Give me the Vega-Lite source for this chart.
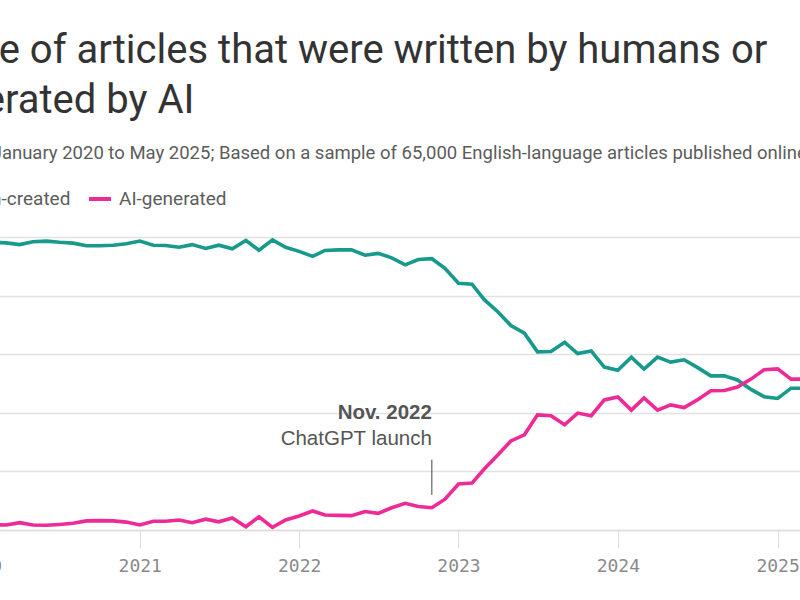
{
  "$schema": "https://vega.github.io/schema/vega-lite/v6.json",
  "autosize": {"type": "none"},
  "padding": {"left": -20, "top": 237, "right": -30, "bottom": 70},
  "width": 850,
  "height": 293,
  "background": "#ffffff",
  "title": {
    "text": ["Share of articles that were written by humans or", "generated by AI"],
    "subtitle": "Monthly, January 2020 to May 2025; Based on a sample of 65,000 English-language articles published online",
    "anchor": "start",
    "frame": "group",
    "dx": -62,
    "offset": 24,
    "font": "Roboto",
    "fontSize": 40,
    "fontWeight": 400,
    "color": "#333333",
    "lineHeight": 50,
    "subtitleFont": "Roboto",
    "subtitleFontSize": 18.5,
    "subtitleColor": "#5c5c5c",
    "subtitlePadding": 23
  },
  "datasets": {
    "shares": [
      {"month": "2020-01-01", "series": "Human-created", "share": 98.0},
      {"month": "2020-02-01", "series": "Human-created", "share": 98.2},
      {"month": "2020-03-01", "series": "Human-created", "share": 98.0},
      {"month": "2020-04-01", "series": "Human-created", "share": 97.4},
      {"month": "2020-05-01", "series": "Human-created", "share": 98.4},
      {"month": "2020-06-01", "series": "Human-created", "share": 98.6},
      {"month": "2020-07-01", "series": "Human-created", "share": 98.2},
      {"month": "2020-08-01", "series": "Human-created", "share": 97.9},
      {"month": "2020-09-01", "series": "Human-created", "share": 97.0},
      {"month": "2020-10-01", "series": "Human-created", "share": 97.0},
      {"month": "2020-11-01", "series": "Human-created", "share": 97.2},
      {"month": "2020-12-01", "series": "Human-created", "share": 97.7},
      {"month": "2021-01-01", "series": "Human-created", "share": 98.6},
      {"month": "2021-02-01", "series": "Human-created", "share": 97.2},
      {"month": "2021-03-01", "series": "Human-created", "share": 97.1},
      {"month": "2021-04-01", "series": "Human-created", "share": 96.5},
      {"month": "2021-05-01", "series": "Human-created", "share": 97.4},
      {"month": "2021-06-01", "series": "Human-created", "share": 96.1},
      {"month": "2021-07-01", "series": "Human-created", "share": 97.2},
      {"month": "2021-08-01", "series": "Human-created", "share": 96.0},
      {"month": "2021-09-01", "series": "Human-created", "share": 98.8},
      {"month": "2021-10-01", "series": "Human-created", "share": 95.5},
      {"month": "2021-11-01", "series": "Human-created", "share": 99.0},
      {"month": "2021-12-01", "series": "Human-created", "share": 96.5},
      {"month": "2022-01-01", "series": "Human-created", "share": 95.1},
      {"month": "2022-02-01", "series": "Human-created", "share": 93.4},
      {"month": "2022-03-01", "series": "Human-created", "share": 95.4},
      {"month": "2022-04-01", "series": "Human-created", "share": 95.6},
      {"month": "2022-05-01", "series": "Human-created", "share": 95.6},
      {"month": "2022-06-01", "series": "Human-created", "share": 93.8},
      {"month": "2022-07-01", "series": "Human-created", "share": 94.4},
      {"month": "2022-08-01", "series": "Human-created", "share": 92.9},
      {"month": "2022-09-01", "series": "Human-created", "share": 90.5},
      {"month": "2022-10-01", "series": "Human-created", "share": 92.3},
      {"month": "2022-11-01", "series": "Human-created", "share": 92.6},
      {"month": "2022-12-01", "series": "Human-created", "share": 89.3},
      {"month": "2023-01-01", "series": "Human-created", "share": 84.2},
      {"month": "2023-02-01", "series": "Human-created", "share": 83.9},
      {"month": "2023-03-01", "series": "Human-created", "share": 78.6},
      {"month": "2023-04-01", "series": "Human-created", "share": 74.5},
      {"month": "2023-05-01", "series": "Human-created", "share": 69.8},
      {"month": "2023-06-01", "series": "Human-created", "share": 67.2},
      {"month": "2023-07-01", "series": "Human-created", "share": 60.8},
      {"month": "2023-08-01", "series": "Human-created", "share": 60.9},
      {"month": "2023-09-01", "series": "Human-created", "share": 64.1},
      {"month": "2023-10-01", "series": "Human-created", "share": 60.2},
      {"month": "2023-11-01", "series": "Human-created", "share": 61.1},
      {"month": "2023-12-01", "series": "Human-created", "share": 55.6},
      {"month": "2024-01-01", "series": "Human-created", "share": 54.5},
      {"month": "2024-02-01", "series": "Human-created", "share": 59.0},
      {"month": "2024-03-01", "series": "Human-created", "share": 54.9},
      {"month": "2024-04-01", "series": "Human-created", "share": 59.0},
      {"month": "2024-05-01", "series": "Human-created", "share": 57.3},
      {"month": "2024-06-01", "series": "Human-created", "share": 58.1},
      {"month": "2024-07-01", "series": "Human-created", "share": 55.5},
      {"month": "2024-08-01", "series": "Human-created", "share": 52.6},
      {"month": "2024-09-01", "series": "Human-created", "share": 52.6},
      {"month": "2024-10-01", "series": "Human-created", "share": 51.2},
      {"month": "2024-11-01", "series": "Human-created", "share": 48.0},
      {"month": "2024-12-01", "series": "Human-created", "share": 45.5},
      {"month": "2025-01-01", "series": "Human-created", "share": 44.9},
      {"month": "2025-02-01", "series": "Human-created", "share": 48.4},
      {"month": "2025-03-01", "series": "Human-created", "share": 48.4},
      {"month": "2025-04-01", "series": "Human-created", "share": 48.8},
      {"month": "2025-05-01", "series": "Human-created", "share": 48.0},
      {"month": "2020-01-01", "series": "AI-generated", "share": 2.0},
      {"month": "2020-02-01", "series": "AI-generated", "share": 1.8},
      {"month": "2020-03-01", "series": "AI-generated", "share": 1.7},
      {"month": "2020-04-01", "series": "AI-generated", "share": 2.5},
      {"month": "2020-05-01", "series": "AI-generated", "share": 1.7},
      {"month": "2020-06-01", "series": "AI-generated", "share": 1.6},
      {"month": "2020-07-01", "series": "AI-generated", "share": 1.9},
      {"month": "2020-08-01", "series": "AI-generated", "share": 2.3},
      {"month": "2020-09-01", "series": "AI-generated", "share": 3.1},
      {"month": "2020-10-01", "series": "AI-generated", "share": 3.2},
      {"month": "2020-11-01", "series": "AI-generated", "share": 3.1},
      {"month": "2020-12-01", "series": "AI-generated", "share": 2.7},
      {"month": "2021-01-01", "series": "AI-generated", "share": 1.7},
      {"month": "2021-02-01", "series": "AI-generated", "share": 3.0},
      {"month": "2021-03-01", "series": "AI-generated", "share": 3.0},
      {"month": "2021-04-01", "series": "AI-generated", "share": 3.4},
      {"month": "2021-05-01", "series": "AI-generated", "share": 2.5},
      {"month": "2021-06-01", "series": "AI-generated", "share": 3.7},
      {"month": "2021-07-01", "series": "AI-generated", "share": 2.8},
      {"month": "2021-08-01", "series": "AI-generated", "share": 4.1},
      {"month": "2021-09-01", "series": "AI-generated", "share": 1.1},
      {"month": "2021-10-01", "series": "AI-generated", "share": 4.5},
      {"month": "2021-11-01", "series": "AI-generated", "share": 0.9},
      {"month": "2021-12-01", "series": "AI-generated", "share": 3.4},
      {"month": "2022-01-01", "series": "AI-generated", "share": 4.8},
      {"month": "2022-02-01", "series": "AI-generated", "share": 6.5},
      {"month": "2022-03-01", "series": "AI-generated", "share": 5.1},
      {"month": "2022-04-01", "series": "AI-generated", "share": 5.0},
      {"month": "2022-05-01", "series": "AI-generated", "share": 4.9},
      {"month": "2022-06-01", "series": "AI-generated", "share": 6.3},
      {"month": "2022-07-01", "series": "AI-generated", "share": 5.7},
      {"month": "2022-08-01", "series": "AI-generated", "share": 7.6},
      {"month": "2022-09-01", "series": "AI-generated", "share": 9.1},
      {"month": "2022-10-01", "series": "AI-generated", "share": 8.0},
      {"month": "2022-11-01", "series": "AI-generated", "share": 7.6},
      {"month": "2022-12-01", "series": "AI-generated", "share": 10.5},
      {"month": "2023-01-01", "series": "AI-generated", "share": 15.7},
      {"month": "2023-02-01", "series": "AI-generated", "share": 16.0},
      {"month": "2023-03-01", "series": "AI-generated", "share": 20.8},
      {"month": "2023-04-01", "series": "AI-generated", "share": 25.6},
      {"month": "2023-05-01", "series": "AI-generated", "share": 30.4},
      {"month": "2023-06-01", "series": "AI-generated", "share": 32.5},
      {"month": "2023-07-01", "series": "AI-generated", "share": 39.3},
      {"month": "2023-08-01", "series": "AI-generated", "share": 39.0},
      {"month": "2023-09-01", "series": "AI-generated", "share": 35.9},
      {"month": "2023-10-01", "series": "AI-generated", "share": 39.9},
      {"month": "2023-11-01", "series": "AI-generated", "share": 39.0},
      {"month": "2023-12-01", "series": "AI-generated", "share": 44.4},
      {"month": "2024-01-01", "series": "AI-generated", "share": 45.4},
      {"month": "2024-02-01", "series": "AI-generated", "share": 40.9},
      {"month": "2024-03-01", "series": "AI-generated", "share": 45.1},
      {"month": "2024-04-01", "series": "AI-generated", "share": 40.9},
      {"month": "2024-05-01", "series": "AI-generated", "share": 42.7},
      {"month": "2024-06-01", "series": "AI-generated", "share": 41.8},
      {"month": "2024-07-01", "series": "AI-generated", "share": 44.4},
      {"month": "2024-08-01", "series": "AI-generated", "share": 47.5},
      {"month": "2024-09-01", "series": "AI-generated", "share": 47.6},
      {"month": "2024-10-01", "series": "AI-generated", "share": 48.8},
      {"month": "2024-11-01", "series": "AI-generated", "share": 51.5},
      {"month": "2024-12-01", "series": "AI-generated", "share": 54.7},
      {"month": "2025-01-01", "series": "AI-generated", "share": 55.0},
      {"month": "2025-02-01", "series": "AI-generated", "share": 51.5},
      {"month": "2025-03-01", "series": "AI-generated", "share": 51.5},
      {"month": "2025-04-01", "series": "AI-generated", "share": 51.2},
      {"month": "2025-05-01", "series": "AI-generated", "share": 52.0}
    ],
    "events": [
      {"month": "2022-11-01", "when": "Nov. 2022", "what": "ChatGPT launch"}
    ]
  },
  "layer": [
    {
      "data": {"name": "shares"},
      "mark": {"type": "line", "strokeWidth": 3.6, "strokeJoin": "miter"},
      "encoding": {
        "x": {
          "field": "month",
          "type": "temporal",
          "scale": {
            "type": "utc",
            "domain": [
              {"year": 2020, "month": 1, "date": 1, "utc": true},
              {"year": 2025, "month": 5, "date": 1, "utc": true}
            ]
          },
          "axis": {
            "title": null,
            "values": [
              {"year": 2020, "month": 1, "date": 1, "utc": true},
              {"year": 2021, "month": 1, "date": 1, "utc": true},
              {"year": 2022, "month": 1, "date": 1, "utc": true},
              {"year": 2023, "month": 1, "date": 1, "utc": true},
              {"year": 2024, "month": 1, "date": 1, "utc": true},
              {"year": 2025, "month": 1, "date": 1, "utc": true}
            ],
            "format": "%Y",
            "formatType": "utc",
            "grid": false,
            "domainColor": "#dddddd",
            "domainWidth": 1.5,
            "tickColor": "#dddddd",
            "tickWidth": 1,
            "tickSize": 18,
            "labelPadding": 9,
            "labelFont": "DejaVu Sans Mono",
            "labelFontSize": 18,
            "labelColor": "#8a8a8a",
            "labelFlush": false,
            "labelOverlap": false
          }
        },
        "y": {
          "field": "share",
          "type": "quantitative",
          "scale": {"domain": [0, 100], "nice": false},
          "axis": {
            "title": null,
            "values": [0, 20, 40, 60, 80, 100],
            "labels": false,
            "ticks": false,
            "domain": false,
            "grid": true,
            "gridColor": "#e2e2e2",
            "gridWidth": 1.5
          }
        },
        "color": {
          "field": "series",
          "type": "nominal",
          "scale": {"domain": ["Human-created", "AI-generated"], "range": ["#17998c", "#ee2a96"]},
          "legend": {
            "title": null,
            "orient": "none",
            "direction": "horizontal",
            "legendX": -72,
            "legendY": -51,
            "symbolType": "stroke",
            "symbolSize": 484,
            "symbolStrokeWidth": 4,
            "labelFont": "Roboto",
            "labelFontSize": 19,
            "labelColor": "#5c5c5c",
            "labelOffset": 6,
            "columnPadding": 10
          }
        }
      }
    },
    {
      "data": {"name": "events"},
      "mark": {"type": "rule", "color": "#444444", "strokeWidth": 1},
      "encoding": {
        "x": {"field": "month", "type": "temporal"},
        "y": {"datum": 12},
        "y2": {"datum": 24}
      }
    },
    {
      "data": {"name": "events"},
      "mark": {"type": "text", "align": "right", "baseline": "middle", "font": "Liberation Sans", "fontSize": 20.5, "fontWeight": "bold", "color": "#555555"},
      "encoding": {
        "x": {"field": "month", "type": "temporal"},
        "y": {"datum": 40},
        "text": {"field": "when"}
      }
    },
    {
      "data": {"name": "events"},
      "mark": {"type": "text", "align": "right", "baseline": "middle", "font": "Liberation Sans", "fontSize": 20.5, "color": "#555555"},
      "encoding": {
        "x": {"field": "month", "type": "temporal"},
        "y": {"datum": 31},
        "text": {"field": "what"}
      }
    }
  ],
  "config": {
    "view": {"stroke": null}
  }
}
